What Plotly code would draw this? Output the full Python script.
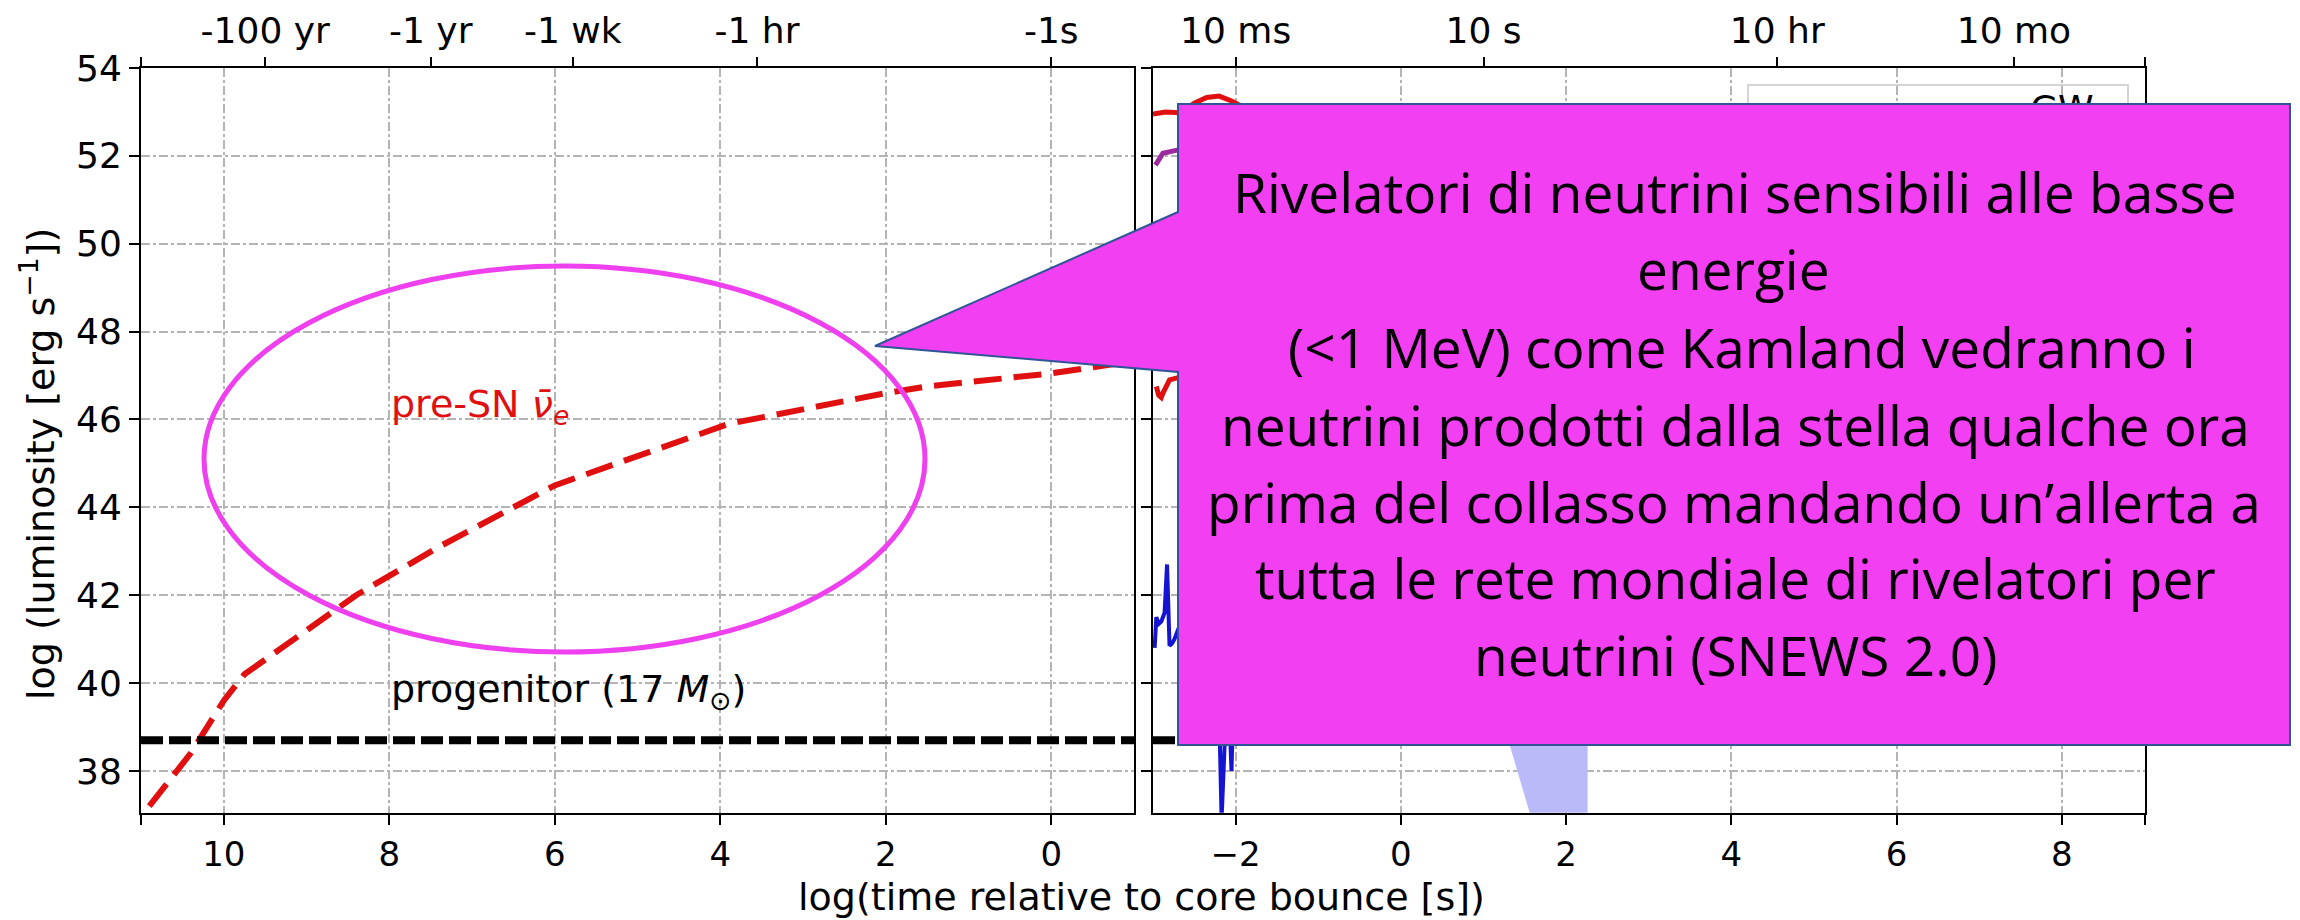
import plotly.graph_objects as go

W, H = 2300, 920

# ---------------- data ----------------
# left panel: pre-supernova anti-nu_e luminosity (log t before bounce, reversed axis)
presn_logt = [10.9, 10.4, 10.0, 9.75, 8.4, 7.4, 6.0, 5.1, 3.9, 2.0, 1.5, 0.0, -0.9]
presn_logL = [37.2, 38.4, 39.6, 40.2, 42.0, 43.1, 44.5, 45.1, 45.9, 46.6, 46.75, 47.05, 47.3]

progenitor_logL = 38.7
left_range_t = [11, -1]
right_range_t = [-3, 9]

# right panel curves (visible pieces)
red_top_t = [-3.0, -2.85, -2.68, -2.5, -2.35, -2.2, -2.05, -1.9, -1.6]
red_top_L = [52.95, 53.0, 52.98, 53.2, 53.33, 53.36, 53.25, 53.1, 52.9]
purple_t = [-2.97, -2.88, -2.71, -2.5, -2.2]
purple_L = [51.79, 52.06, 52.13, 52.1, 52.0]
red_low_t = [-2.96, -2.93, -2.9, -2.88, -2.8, -2.6]
red_low_L = [46.75, 46.55, 46.5, 46.6, 46.9, 47.0]
blue_t = [-2.98, -2.96, -2.93, -2.9, -2.86, -2.83, -2.80, -2.77, -2.74, -2.7, -2.5, -2.25,
          -2.19, -2.17, -2.12, -2.07, -2.05, -2.03, -1.8]
blue_L = [40.8, 41.5, 41.35, 41.4, 41.6, 42.7, 40.85, 40.9, 41.0, 41.2, 41.0, 40.5,
          38.6, 36.9, 39.2, 39.0, 38.0, 39.4, 40.0]
band_t = [1.0, 1.646, 2.26, 2.26]
band_L = [40.6, 36.5, 36.5, 40.6]

yticks = [38, 40, 42, 44, 46, 48, 50, 52, 54]
left_bottom_ticks = [10, 8, 6, 4, 2, 0]
right_bottom_ticks = [-2, 0, 2, 4, 6, 8]
right_bottom_text = ["\u22122", "0", "2", "4", "6", "8"]
left_top_vals = [9.499, 7.499, 5.782, 3.556, 0]
left_top_text = ["-100 yr", "-1 yr", "-1 wk", "-1 hr", "-1s"]
right_top_vals = [-2, 1, 4.556, 7.42]
right_top_text = ["10 ms", "10 s", "10 hr", "10 mo"]

callout_lines = [
    "Rivelatori di neutrini sensibili alle basse",
    "energie",
    "(<1 MeV) come Kamland vedranno i",
    "neutrini prodotti dalla stella qualche ora",
    "prima del collasso mandando un\u2019allerta a",
    "tutta le rete mondiale di rivelatori per",
    "neutrini (SNEWS 2.0)",
]

# ---------------- layout helpers ----------------
def px(x):
    return x / W

def py(y):
    return 1 - y / H

FAM = "DejaVu Sans"
GRID = dict(showgrid=True, gridcolor="#b4b4b4", gridwidth=1.5, griddash="dashdot")
AX = dict(showline=True, linecolor="black", linewidth=2, ticks="outside", ticklen=10,
          tickwidth=2, tickcolor="black", zeroline=False, automargin=False)
EDGE = dict(ticks="outside", ticklen=10, tickwidth=2, tickcolor="black", showgrid=False)
TOPAX = dict(showgrid=False, showline=False, ticks="outside", ticklen=10, tickwidth=2,
             tickcolor="black", zeroline=False, automargin=False,
             tickfont=dict(family=FAM, size=36, color="black"))

fig = go.Figure()

RED = "#e01010"
fig.add_trace(go.Scatter(x=presn_logt, y=presn_logL, mode="lines", xaxis="x", yaxis="y",
                         line=dict(color=RED, width=6, dash="28px,12px"), showlegend=False))
fig.add_trace(go.Scatter(x=left_range_t, y=[progenitor_logL] * 2, mode="lines", xaxis="x", yaxis="y",
                         line=dict(color="black", width=8, dash="22px,6px"), showlegend=False))

fig.add_trace(go.Scatter(x=band_t, y=band_L, mode="lines", fill="toself", xaxis="x2", yaxis="y2",
                         fillcolor="#babaf9", line=dict(width=0, color="#babaf9"), showlegend=False))
fig.add_trace(go.Scatter(x=[-3, 0], y=[progenitor_logL] * 2, mode="lines", xaxis="x2", yaxis="y2",
                         line=dict(color="black", width=8, dash="22px,6px"), showlegend=False))
fig.add_trace(go.Scatter(x=red_top_t, y=red_top_L, mode="lines", xaxis="x2", yaxis="y2",
                         line=dict(color=RED, width=5), showlegend=False))
fig.add_trace(go.Scatter(x=purple_t, y=purple_L, mode="lines", xaxis="x2", yaxis="y2",
                         line=dict(color="#9a2a9e", width=5), showlegend=False))
fig.add_trace(go.Scatter(x=red_low_t, y=red_low_L, mode="lines", xaxis="x2", yaxis="y2",
                         line=dict(color=RED, width=5), showlegend=False))
fig.add_trace(go.Scatter(x=blue_t, y=blue_L, mode="lines", xaxis="x2", yaxis="y2",
                         line=dict(color="#1414d2", width=4), showlegend=False))
fig.add_trace(go.Scatter(x=[8.0], y=[53.0], mode="text", text=["GW"], xaxis="x2", yaxis="y2",
                         textfont=dict(family=FAM, size=36, color="black"), showlegend=False))
# invisible helpers so the secondary (top) axes are drawn
fig.add_trace(go.Scatter(x=[5], y=[45], mode="markers", xaxis="x3", yaxis="y",
                         marker=dict(opacity=0, size=1), showlegend=False, hoverinfo="skip"))
fig.add_trace(go.Scatter(x=[5], y=[45], mode="markers", xaxis="x4", yaxis="y2",
                         marker=dict(opacity=0, size=1), showlegend=False, hoverinfo="skip"))

left_dom = [px(141), px(1134)]
right_dom = [px(1153), px(2144.5)]
ydom = [py(812.7), py(68)]
yrange = [37.05, 54]

fig.update_layout(
    template="none",
    width=W, height=H, margin=dict(l=0, r=0, t=0, b=0, autoexpand=False),
    paper_bgcolor="white", plot_bgcolor="white", showlegend=False,
    xaxis=dict(domain=left_dom, range=left_range_t, anchor="y", tickvals=left_bottom_ticks,
               ticktext=[str(v) for v in left_bottom_ticks], mirror=True,
               minor=dict(tickvals=[11], **EDGE),
               tickfont=dict(family=FAM, size=34, color="black"), **AX, **GRID),
    xaxis3=dict(overlaying="x", side="top", anchor="y", range=left_range_t, tickvals=left_top_vals,
                ticktext=left_top_text, minor=dict(tickvals=[11], **EDGE), **TOPAX),
    yaxis=dict(domain=ydom, range=yrange, anchor="x", tickvals=yticks, mirror=True,
               tickfont=dict(family=FAM, size=36, color="black"), **AX, **GRID),
    xaxis2=dict(domain=right_dom, range=right_range_t, anchor="y2", tickvals=right_bottom_ticks,
                ticktext=right_bottom_text, mirror=True,
                minor=dict(tickvals=[9], **EDGE),
                tickfont=dict(family=FAM, size=34, color="black"), **AX, **GRID),
    xaxis4=dict(overlaying="x2", side="top", anchor="y2", range=right_range_t, tickvals=right_top_vals,
                ticktext=right_top_text, minor=dict(tickvals=[9], **EDGE), **TOPAX),
    yaxis2=dict(domain=ydom, range=yrange, anchor="x2", tickvals=yticks, showticklabels=False,
                mirror=True, **AX, **GRID),
)

shapes = []
# legend frame (mostly hidden)
shapes.append(dict(type="rect", xref="paper", yref="paper", x0=px(1748), x1=px(2128), y0=py(140), y1=py(85),
                   line=dict(color="#d4d4d4", width=2), fillcolor="rgba(0,0,0,0)", layer="between"))
# ellipse
shapes.append(dict(type="circle", xref="paper", yref="paper", x0=px(204), x1=px(925), y0=py(652), y1=py(266),
                   line=dict(color="#ee40ee", width=5), layer="above"))
# callout
pts = [(1178, 104), (2290, 104), (2290, 745), (1178, 745), (1178, 372), (875, 346), (1178, 212)]
path = "M " + " L ".join(f"{px(a):.5f},{py(b):.5f}" for a, b in pts) + " Z"
shapes.append(dict(type="path", xref="paper", yref="paper", path=path, fillcolor="#f23ff2",
                   line=dict(color="#2f5597", width=2), layer="above"))
fig.update_layout(shapes=shapes)

ann = []
ann.append(dict(xref="x", yref="y", x=8.0, y=46.29, xanchor="left", yanchor="middle", showarrow=False,
                text="pre-SN <i>\u03bd\u0304</i><sub><i>e</i></sub>",
                font=dict(family=FAM, size=38, color=RED)))
ann.append(dict(xref="x", yref="y", x=8.0, y=39.8, xanchor="left", yanchor="middle", showarrow=False,
                text="progenitor (17 <i>M</i><sub>\u2299</sub>)",
                font=dict(family=FAM, size=38, color="black")))
ann.append(dict(xref="paper", yref="paper", x=px(1141), y=py(897), xanchor="center", yanchor="middle",
                showarrow=False, text="log(time relative to core bounce [s])",
                font=dict(family=FAM, size=38, color="black")))
ann.append(dict(xref="paper", yref="paper", x=px(38), y=py(464), xanchor="center", yanchor="middle",
                showarrow=False, textangle=-90, text="log (luminosity [erg s<sup>\u22121</sup>])",
                font=dict(family=FAM, size=38, color="black")))
FS = 55
baselines = [213, 290, 368, 446, 523, 599, 676]
centers = [1735, 1733, 1742, 1735, 1734, 1735, 1735]
for line, b, c in zip(callout_lines, baselines, centers):
    ann.append(dict(xref="paper", yref="paper", x=px(c), y=py(b - 0.39 * FS), xanchor="center",
                    yanchor="middle", showarrow=False, text=line,
                    font=dict(family="Open Sans", size=FS, color="black")))
fig.update_layout(annotations=ann)

fig.write_html("out.html")
